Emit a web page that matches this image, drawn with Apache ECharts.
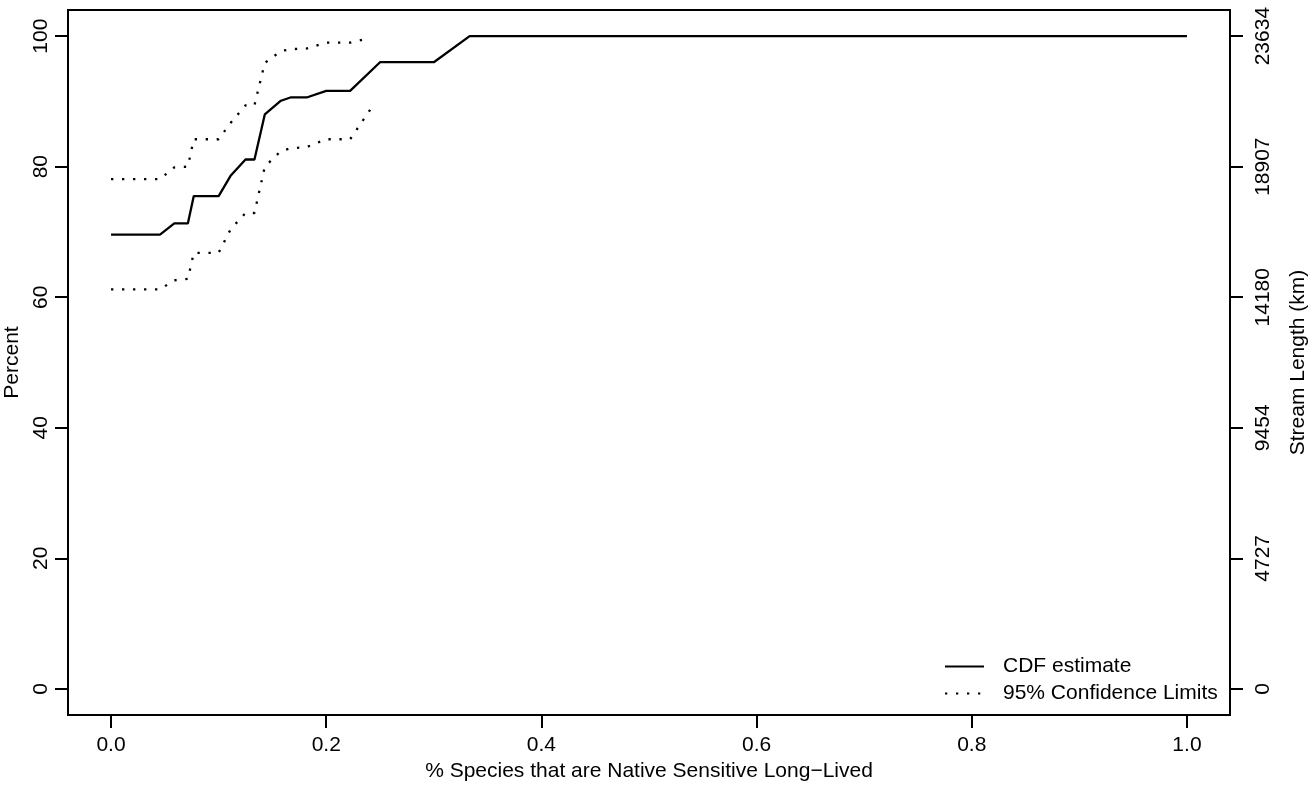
<!DOCTYPE html>
<html><head><meta charset="utf-8">
<script src="https://cdn.jsdelivr.net/npm/echarts@6/dist/echarts.min.js"></script>
<style>html,body{margin:0;padding:0;background:#fff}#c{width:1316px;height:786px}</style>
</head><body><div id="c"></div>
<script>
// CDF estimate vertices
const cdfX = [0, 0.0455, 0.0588, 0.0714, 0.0769, 0.1, 0.1111, 0.125, 0.1333, 0.1429, 0.1579, 0.1667, 0.1818, 0.2, 0.2222, 0.25, 0.3, 0.3333, 1.0];
const cdfEstimate = [69.6, 69.6, 71.3, 71.3, 75.5, 75.5, 78.6, 81.1, 81.1, 88.0, 90.1, 90.6, 90.6, 91.6, 91.6, 96.0, 96.0, 100, 100];
// 95% confidence limits
const upperX = [0, 0.0455, 0.0588, 0.0714, 0.0769, 0.1, 0.1111, 0.125, 0.1333, 0.1429, 0.1579, 0.1667, 0.1818, 0.2, 0.2222, 0.2386];
const upperLimit = [78.1, 78.1, 79.9, 80.0, 84.2, 84.2, 86.7, 89.4, 89.4, 95.9, 97.7, 98.0, 98.1, 99.0, 99.0, 99.6];
const lowerX = [0, 0.0455, 0.0588, 0.0714, 0.0769, 0.1, 0.1111, 0.125, 0.1333, 0.1429, 0.1579, 0.1667, 0.1818, 0.2, 0.2222, 0.2432];
const lowerLimit = [61.2, 61.2, 62.6, 62.8, 66.8, 66.8, 70.4, 72.9, 72.9, 80.0, 82.4, 82.8, 83.0, 84.2, 84.2, 89.3];
// axis ticks
const xTicks = [0, 0.2, 0.4, 0.6, 0.8, 1.0];
const yTicks = [0, 20, 40, 60, 80, 100];
const streamLengthLabels = ['0', '4727', '9454', '14180', '18907', '23634'];

const FONT = 'Liberation Sans, Arial, Helvetica, sans-serif';
const zip = (xs, ys) => xs.map((x, i) => [x, ys[i]]);

const chart = echarts.init(document.getElementById('c'), null, {renderer: 'canvas'});
const tickStyle = {show: true, length: 13, inside: false, lineStyle: {color: '#000', width: 2}};
const labelBase = {color: '#000', fontSize: 21, fontFamily: FONT};
const noLine = {show: false, onZero: false};

chart.setOption({
  animation: false,
  backgroundColor: '#fff',
  grid: {left: 68, right: 86, top: 10, bottom: 71, show: true, borderColor: '#000', borderWidth: 2,
         backgroundColor: 'transparent', containLabel: false, outerBoundsMode: 'none'},
  legend: {
    orient: 'vertical', left: 939, top: 651, itemWidth: 39, itemHeight: 14, itemGap: 6,
    itemStyle: {opacity: 0},
    textStyle: Object.assign({}, labelBase, {padding: [0, 0, 0, 14]}),
    data: ['CDF estimate', '95% Confidence Limits']
  },
  xAxis: {
    type: 'value', min: -0.04, max: 1.04,
    name: '% Species that are Native Sensitive Long\u2212Lived', nameLocation: 'middle', nameGap: 45,
    nameTextStyle: labelBase,
    axisLine: noLine, splitLine: {show: false},
    axisTick: Object.assign({customValues: xTicks}, tickStyle),
    axisLabel: Object.assign({customValues: xTicks, margin: 20, formatter: v => v.toFixed(1)}, labelBase)
  },
  yAxis: [{
    type: 'value', min: -4, max: 104, position: 'left',
    name: 'Percent', nameLocation: 'middle', nameGap: 33, nameRotate: 90,
    nameTextStyle: labelBase,
    axisLine: noLine, splitLine: {show: false},
    axisTick: Object.assign({customValues: yTicks}, tickStyle),
    axisLabel: Object.assign({customValues: yTicks, margin: 16, rotate: 90, formatter: v => String(v)}, labelBase)
  }, {
    type: 'value', min: -4, max: 104, position: 'right',
    name: 'Stream Length (km)', nameLocation: 'middle', nameGap: 58, nameRotate: 90,
    nameTextStyle: labelBase,
    axisLine: noLine, splitLine: {show: false},
    axisTick: Object.assign({customValues: yTicks}, tickStyle),
    axisLabel: Object.assign({customValues: yTicks, margin: 23, rotate: 90,
      formatter: v => streamLengthLabels[yTicks.indexOf(Math.round(v))] || ''}, labelBase)
  }],
  series: [{
    name: 'CDF estimate', type: 'line', symbol: 'none', data: zip(cdfX, cdfEstimate),
    lineStyle: {color: '#000', width: 2.3}, itemStyle: {color: '#000'}
  }, {
    name: '95% Confidence Limits', type: 'line', symbol: 'none', data: zip(upperX, upperLimit),
    lineStyle: {color: '#000', width: 2.3, type: [2.3, 8.7]}, itemStyle: {color: '#000'}
  }, {
    name: '95% Confidence Limits', type: 'line', symbol: 'none', data: zip(lowerX, lowerLimit),
    lineStyle: {color: '#000', width: 2.3, type: [2.3, 8.7]}, itemStyle: {color: '#000'}
  }]
});
</script></body></html>
